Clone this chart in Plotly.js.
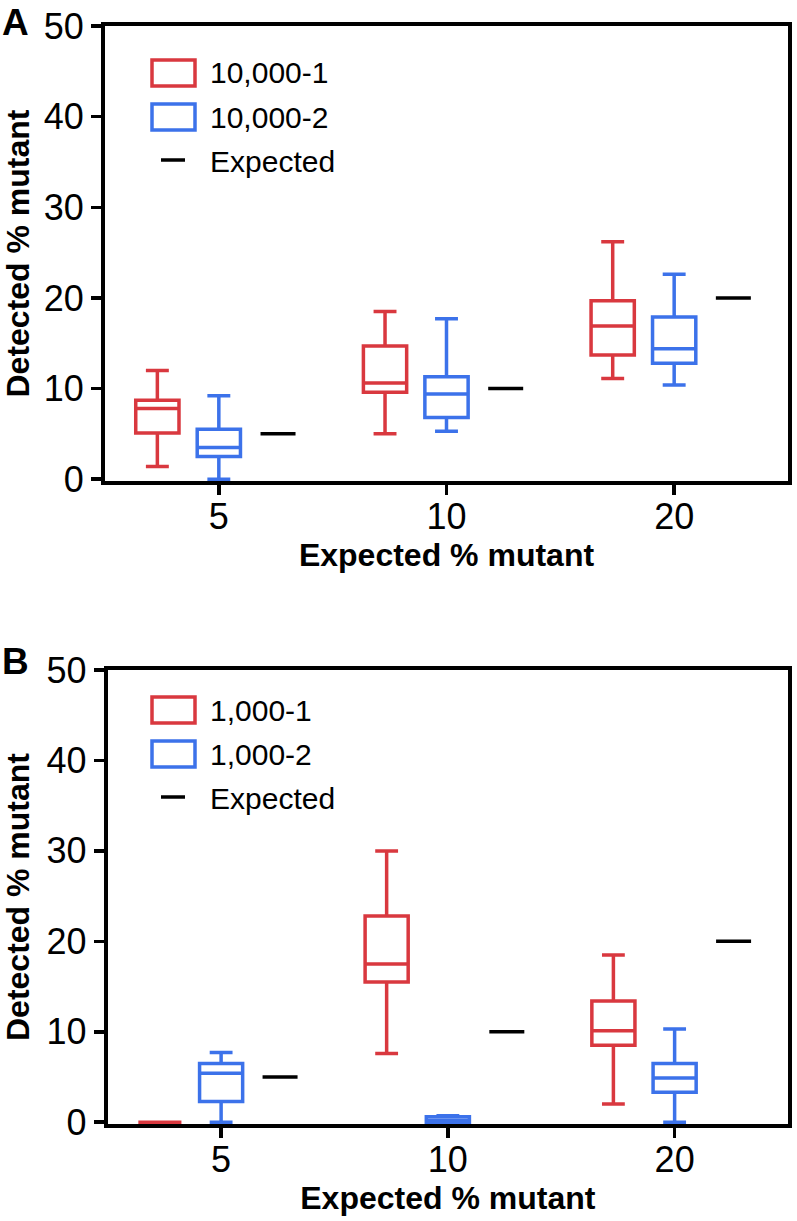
<!DOCTYPE html>
<html><head><meta charset="utf-8">
<script src="https://cdn.plot.ly/plotly-3.0.1.min.js"></script>
<style>html,body{margin:0;padding:0;background:#fff}</style>
</head><body><div id="chart" style="width:797px;height:1221px"></div>
<script>
// ---- data ----
const categories = ['5', '10', '20'];
const expectedValues = [5, 10, 20];

// Panel A: 10,000 reads
const a1Name = '10,000-1';
const a1Lower = [1.4, 5.0, 11.1];
const a1Q1 = [5.1, 9.6, 13.7];
const a1Median = [7.8, 10.6, 16.9];
const a1Q3 = [8.7, 14.7, 19.7];
const a1Upper = [12.0, 18.5, 26.2];

const a2Name = '10,000-2';
const a2Lower = [0.0, 5.3, 10.4];
const a2Q1 = [2.5, 6.8, 12.8];
const a2Median = [3.5, 9.4, 14.4];
const a2Q3 = [5.5, 11.3, 17.9];
const a2Upper = [9.2, 17.7, 22.6];

// Panel B: 1,000 reads
const b1Name = '1,000-1';
const b1Lower = [0.0, 7.6, 2.0];
const b1Q1 = [0.0, 15.5, 8.5];
const b1Median = [0.0, 17.5, 10.1];
const b1Q3 = [0.0, 22.8, 13.4];
const b1Upper = [0.0, 30.0, 18.5];

const b2Name = '1,000-2';
const b2Lower = [0.0, 0.0, 0.0];
const b2Q1 = [2.3, 0.0, 3.3];
const b2Median = [5.4, 0.2, 4.9];
const b2Q3 = [6.5, 0.6, 6.5];
const b2Upper = [7.7, 0.7, 10.3];

const expectedName = 'Expected';
const yTicks = [0, 10, 20, 30, 40, 50];

// ---- style ----
const RED = '#d9383f';
const BLUE = '#3c72ea';
const FONT = 'Liberation Sans, Arial, Helvetica, sans-serif';
const W = 797, H = 1221, ML = 105, MR = 9, MT = 26, MB = 97;
const px = x => (x - ML) / (W - ML - MR);
const py = y => (H - MB - y) / (H - MT - MB);

function boxTrace(name, lower, q1, med, q3, upper, color, offset, xa, ya) {
  return {
    type: 'box', name: name,
    x: categories.map((c, i) => i + offset),
    lowerfence: lower, q1: q1, median: med, q3: q3, upperfence: upper,
    width: 0.19, whiskerwidth: 0.53,
    line: { color: color, width: 3.5 },
    fillcolor: 'rgba(255,255,255,0)',
    boxpoints: false, showlegend: false,
    xaxis: xa, yaxis: ya
  };
}
function expTrace(xa, ya) {
  return {
    type: 'scatter', mode: 'markers', name: expectedName,
    x: categories.map((c, i) => i + 0.26), y: expectedValues,
    marker: { symbol: 'line-ew', size: 25, color: 'black', line: { width: 3.5, color: 'black' } },
    showlegend: false, cliponaxis: false, xaxis: xa, yaxis: ya
  };
}

const traces = [
  boxTrace(a1Name, a1Lower, a1Q1, a1Median, a1Q3, a1Upper, RED, -0.27, 'x', 'y'),
  boxTrace(a2Name, a2Lower, a2Q1, a2Median, a2Q3, a2Upper, BLUE, 0, 'x', 'y'),
  expTrace('x', 'y'),
  boxTrace(b1Name, b1Lower, b1Q1, b1Median, b1Q3, b1Upper, RED, -0.27, 'x2', 'y2'),
  boxTrace(b2Name, b2Lower, b2Q1, b2Median, b2Q3, b2Upper, BLUE, 0, 'x2', 'y2'),
  expTrace('x2', 'y2')
];

function xAxis(domain, anchor) {
  return {
    domain: domain, anchor: anchor, range: [-0.5, 2.5],
    tickmode: 'array', tickvals: categories.map((c, i) => i), ticktext: categories,
    ticks: 'outside', ticklen: 10, tickwidth: 3.5, tickcolor: 'black',
    ticklabelstandoff: -9,
    showline: true, linewidth: 4, linecolor: 'black', mirror: true,
    showgrid: false, zeroline: false, layer: 'below traces',
    tickfont: { family: FONT, size: 36, color: 'black' },
    title: { text: 'Expected % mutant', standoff: 7, font: { family: FONT, size: 32, color: 'black', weight: 'bold' } }
  };
}
function yAxis(domain, anchor) {
  return {
    domain: domain, anchor: anchor, range: [-0.2, 50],
    tickmode: 'array', tickvals: yTicks,
    ticks: 'outside', ticklen: 10, tickwidth: 3.5, tickcolor: 'black',
    showline: true, linewidth: 4, linecolor: 'black', mirror: true,
    showgrid: false, zeroline: false, layer: 'below traces',
    tickfont: { family: FONT, size: 36, color: 'black' },
    title: { text: 'Detected % mutant', standoff: 16, font: { family: FONT, size: 32, color: 'black', weight: 'bold' } }
  };
}

function legendItems(y0, names) {
  const shapes = [
    { type: 'rect', xref: 'paper', yref: 'paper', x0: px(152), x1: px(195), y0: py(y0 - 13), y1: py(y0 + 13), line: { color: RED, width: 3.5 } },
    { type: 'rect', xref: 'paper', yref: 'paper', x0: px(152), x1: px(195), y0: py(y0 + 31), y1: py(y0 + 57), line: { color: BLUE, width: 3.5 } },
    { type: 'line', xref: 'paper', yref: 'paper', x0: px(161), x1: px(185), y0: py(y0 + 87), y1: py(y0 + 87), line: { color: 'black', width: 3.5 } }
  ];
  const ann = names.map((n, i) => ({
    xref: 'paper', yref: 'paper', x: px(208), y: py(y0 + i * 44), xanchor: 'left', yanchor: 'middle',
    text: n, showarrow: false, font: { family: FONT, size: 30, color: 'black' }
  }));
  return { shapes, ann };
}
const legA = legendItems(73, [a1Name, a2Name, expectedName]);
const legB = legendItems(710, [b1Name, b2Name, expectedName]);

const panelLabels = [
  { xref: 'paper', yref: 'paper', x: px(0), y: py(0), xanchor: 'left', yanchor: 'top', text: 'A', showarrow: false,
    font: { family: FONT, size: 37, color: 'black', weight: 'bold' } },
  { xref: 'paper', yref: 'paper', x: px(0), y: py(639), xanchor: 'left', yanchor: 'top', text: 'B', showarrow: false,
    font: { family: FONT, size: 37, color: 'black', weight: 'bold' } }
];

const layout = {
  width: W, height: H,
  margin: { l: ML, r: MR, t: MT, b: MB },
  paper_bgcolor: 'white', plot_bgcolor: 'white',
  showlegend: false, boxmode: 'overlay',
  xaxis: xAxis([0, 1], 'y'),
  yaxis: yAxis([py(481), 1], 'x'),
  xaxis2: xAxis([0.004, 1], 'y2'),
  yaxis2: yAxis([0, py(670)], 'x2'),
  shapes: legA.shapes.concat(legB.shapes),
  annotations: legA.ann.concat(legB.ann).concat(panelLabels)
};

Plotly.newPlot('chart', traces, layout, { displayModeBar: false, staticPlot: true });
</script>
</body></html>
